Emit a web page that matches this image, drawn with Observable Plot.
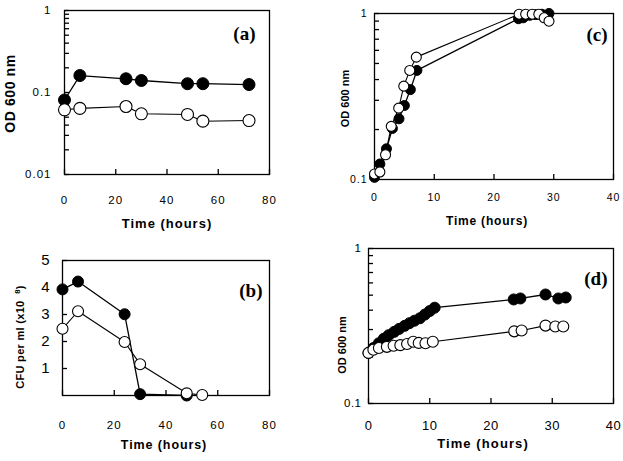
<!DOCTYPE html>
<html><head><meta charset="utf-8">
<script src="https://cdn.jsdelivr.net/npm/d3@7"></script>
<script src="https://cdn.jsdelivr.net/npm/@observablehq/plot@0.6"></script>
<style>
html,body{margin:0;padding:0;background:#fff;}
#chart{position:relative;width:623px;height:461px;overflow:hidden;background:#fff;}
</style></head><body><div id="chart"></div>
<script>
// ---------- Panel (a) ----------
const aTime = [0, 6, 24, 30, 48, 54, 72];
const aFilled = [0.081, 0.161, 0.147, 0.140, 0.128, 0.128, 0.125];
const aOpen = [0.0615, 0.064, 0.0675, 0.055, 0.054, 0.0447, 0.0455];
const aXTicks = [0, 20, 40, 60, 80];
const aYTicks = [0.01, 0.02, 0.03, 0.04, 0.05, 0.06, 0.07, 0.08, 0.09, 0.1, 0.2, 0.3, 0.4, 0.5, 0.6, 0.7, 0.8, 0.9, 1];
const aYLabels = [0.01, 0.1, 1];

// ---------- Panel (b) ----------
const bTimeFilled = [0, 6, 24, 30, 48];
const bFilled = [3.93, 4.22, 3.01, 0.05, 0.0];
const bTimeOpen = [0, 6, 24, 30, 48, 54];
const bOpen = [2.47, 3.12, 1.98, 1.16, 0.08, 0.02];
const bXTicks = [0, 20, 40, 60, 80];
const bYTicks = [1, 2, 3, 4, 5];
const bYLabels = [1, 2, 3, 4, 5];

// ---------- Panel (c) ----------
const cTimeFilled = [0, 0.9, 2, 3, 4.1, 5, 6, 7.1, 24.1, 24.9, 26, 27, 28, 29.2];
const cFilled = [0.103, 0.124, 0.153, 0.203, 0.232, 0.279, 0.348, 0.454, 0.93, 0.942, 0.975, 0.985, 0.99, 1.0];
const cTimeOpen = [0, 0.9, 1.85, 2.8, 4.05, 4.9, 5.9, 7.0, 24.2, 25.3, 26.4, 27.5, 28.4, 29.2];
const cOpen = [0.108, 0.111, 0.141, 0.209, 0.269, 0.365, 0.454, 0.546, 0.99, 0.99, 0.99, 0.99, 0.942, 0.899];
const cXTicks = [0, 10, 20, 30, 40];
const cYTicks = [0.1, 0.2, 0.3, 0.4, 0.5, 0.6, 0.7, 0.8, 0.9, 1];
const cYLabels = [0.1, 1];

// ---------- Panel (d) ----------
const dTimeFilled = [0, 0.8, 1.7, 2.5, 3.3, 4.2, 5, 5.9, 6.7, 7.5, 8.4, 9.2, 10, 10.8, 23.7, 24.8, 28.9, 31.0, 32.2];
const dFilled = [0.212, 0.228, 0.245, 0.262, 0.276, 0.29, 0.303, 0.317, 0.33, 0.342, 0.355, 0.375, 0.395, 0.415, 0.469, 0.476, 0.505, 0.476, 0.483];
const dTimeOpen = [0, 0.8, 1.7, 3, 4.1, 5.2, 6.3, 7.3, 8.2, 9.3, 10.5, 23.8, 25.0, 28.9, 30.5, 31.8];
const dOpen = [0.212, 0.222, 0.228, 0.232, 0.236, 0.238, 0.242, 0.25, 0.246, 0.245, 0.25, 0.292, 0.296, 0.318, 0.314, 0.314];
const dXTicks = [0, 10, 20, 30, 40];
const dYTicks = [0.1, 0.2, 0.3, 0.4, 0.5, 0.6, 0.7, 0.8, 0.9, 1];
const dYLabels = [0.1, 1];

const W = 623, H = 461, TICK = 5;
const FONT = "'Liberation Sans', Arial, Helvetica, sans-serif";
const rows = (t, v) => t.map((x, i) => ({t: x, v: v[i]}));

function panel(o) {
  const filled = rows(o.tf, o.vf), open = rows(o.to, o.vo);
  const fw = o.frame[1] - o.frame[0], fh = o.frame[3] - o.frame[2];
  const svg = Plot.plot({
    width: W, height: H,
    marginLeft: o.frame[0], marginRight: W - o.frame[1],
    marginTop: o.frame[2], marginBottom: H - o.frame[3],
    style: {position: "absolute", left: "0px", top: "0px", background: "transparent", fontFamily: FONT, overflow: "visible"},
    x: {domain: o.xDomain},
    y: o.yType === "log" ? {type: "log", domain: o.yDomain} : {domain: o.yDomain},
    marks: [
      // tick labels
      Plot.axisX({ticks: o.xTicks, tickSize: 0, tickPadding: o.xPad, fontSize: o.xFont, tickFormat: d => String(d), label: null}),
      Plot.axisY({ticks: o.yLabels, tickSize: 0, tickPadding: o.yPad, fontSize: o.yFont, tickFormat: d => String(d), label: null}),
      // inward tick lines
      Plot.tickX(o.xTicks, {x: d => d, insetTop: fh - TICK, stroke: "black", strokeWidth: 1.3}),
      Plot.tickY(o.yTicks, {y: d => d, insetRight: fw - TICK, stroke: "black", strokeWidth: 1.3}),
      Plot.frame({stroke: "black", strokeWidth: 1.3}),
      Plot.lineY(filled, {x: "t", y: "v", stroke: "black", strokeWidth: 1.3}),
      Plot.lineY(open, {x: "t", y: "v", stroke: "black", strokeWidth: 1.1}),
      Plot.dot(filled, {x: "t", y: "v", r: o.r, fill: "black", stroke: "black", strokeWidth: 1}),
      Plot.dot(open, {x: "t", y: "v", r: o.r, fill: "white", stroke: "black", strokeWidth: 1.1}),
      Plot.text([o.tag], {frameAnchor: "top-right", dx: o.tagDx, dy: o.tagDy, text: d => d, textAnchor: "end", lineAnchor: "middle",
                          fontFamily: "'Liberation Serif', 'Times New Roman', serif", fontWeight: "bold", fontSize: 19}),
      Plot.text([o.xTitle], {frameAnchor: "bottom", dx: o.xtDx, dy: o.xtDy, text: d => d, lineAnchor: "middle",
                             fontWeight: "bold", fontSize: o.xtFont}),
      Plot.text([o.yTitle], {frameAnchor: "left", dx: o.ytDx, dy: o.ytDy, rotate: -90, text: d => d, lineAnchor: "middle", textAnchor: "middle",
                             fontWeight: "bold", fontSize: o.ytFont})
    ]
  });
  const s = d3.select(svg);
  s.selectAll("text").filter(function () { return this.textContent === o.xTitle; }).attr("letter-spacing", o.xtLs);
  const yt = s.selectAll("text").filter(function () { return this.textContent === o.yTitle; }).attr("letter-spacing", o.ytLs);
  if (o.ySup) {
    yt.each(function () {
      const t = d3.select(this);
      t.text(null);
      t.append("tspan").text(o.yTitle.slice(0, -2));
      t.append("tspan").attr("dy", "-0.55em").attr("font-size", "0.7em").text(o.ySup);
      t.append("tspan").attr("dy", "0.4em").text(")");
    });
  }
  s.selectAll('g[aria-label="x-axis tick label"] text').attr("letter-spacing", o.tickLs);
  s.selectAll('g[aria-label="y-axis tick label"] text').attr("letter-spacing", o.tickLs);
  document.getElementById("chart").appendChild(svg);
}

panel({frame: [64, 269, 10, 174], xDomain: [0, 80], yType: "log", yDomain: [0.01, 1],
  xTicks: aXTicks, yTicks: aYTicks, yLabels: aYLabels, tf: aTime, vf: aFilled, to: aTime, vo: aOpen, r: 6,
  xPad: 21, xFont: 11.5, yPad: 13, yFont: 11.5, tickLs: 1,
  tag: "(a)", tagDx: -14, tagDy: 23,
  xTitle: "Time (hours)", xtDx: 0, xtDy: 49, xtFont: 13, xtLs: 1.0,
  yTitle: "OD 600 nm", ytDx: -54, ytDy: 1, ytFont: 14, ytLs: 0.6});

panel({frame: [62, 269, 260, 395], xDomain: [0, 80], yType: "linear", yDomain: [0, 5],
  xTicks: bXTicks, yTicks: bYTicks, yLabels: bYLabels, tf: bTimeFilled, vf: bFilled, to: bTimeOpen, vo: bOpen, r: 5.5,
  xPad: 25, xFont: 11.5, yPad: 12, yFont: 15, tickLs: 1,
  tag: "(b)", tagDx: -7, tagDy: 30,
  xTitle: "Time (hours)", xtDx: -2, xtDy: 49, xtFont: 12.5, xtLs: 0.9,
  yTitle: "CFU per ml (x10  8)", ySup: "8", ytDx: -42, ytDy: 9, ytFont: 11, ytLs: 0.3});

panel({frame: [374, 613, 13, 179], xDomain: [0, 40], yType: "log", yDomain: [0.1, 1],
  xTicks: cXTicks, yTicks: cYTicks, yLabels: cYLabels, tf: cTimeFilled, vf: cFilled, to: cTimeOpen, vo: cOpen, r: 5,
  xPad: 14.5, xFont: 10.5, yPad: 7, yFont: 10.5, tickLs: 1,
  tag: "(c)", tagDx: -6, tagDy: 21,
  xTitle: "Time (hours)", xtDx: -7, xtDy: 42, xtFont: 12, xtLs: 0.8,
  yTitle: "OD 600 nm", ytDx: -29, ytDy: 2, ytFont: 11, ytLs: 0});

panel({frame: [368, 613, 248, 403], xDomain: [0, 40], yType: "log", yDomain: [0.1, 1],
  xTicks: dXTicks, yTicks: dYTicks, yLabels: dYLabels, tf: dTimeFilled, vf: dFilled, to: dTimeOpen, vo: dOpen, r: 5.5,
  xPad: 17.5, xFont: 13, yPad: 7, yFont: 11.5, tickLs: 0.5,
  tag: "(d)", tagDx: -6, tagDy: 30,
  xTitle: "Time (hours)", xtDx: -8, xtDy: 40, xtFont: 13, xtLs: 1.1,
  yTitle: "OD 600 nm", ytDx: -26, ytDy: 19, ytFont: 11, ytLs: 0});
</script></body></html>
